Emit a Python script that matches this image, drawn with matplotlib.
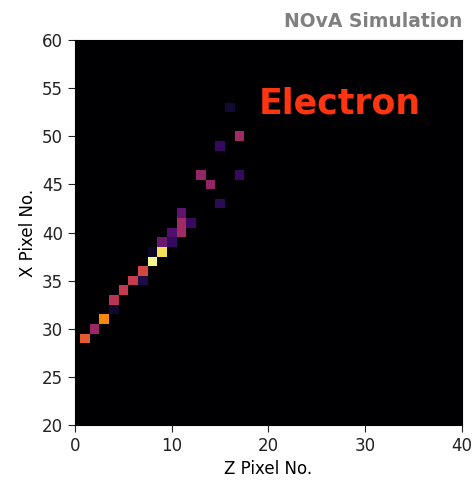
import numpy as np
import matplotlib
matplotlib.use("Agg")
import matplotlib.pyplot as plt

# hit cells: z pixel, x pixel, relative charge
hit_z = [1, 2, 3, 4, 4, 5, 6, 7, 7, 8, 8, 9, 9, 10, 10, 11, 11, 11, 12, 13, 14, 15, 15, 17, 17, 16]
hit_x = [29, 30, 31, 32, 33, 34, 35, 35, 36, 37, 38, 38, 39, 39, 40, 40, 41, 42, 41, 46, 45, 43, 49, 46, 50, 53]
hit_q = [0.63, 0.42, 0.74, 0.08, 0.49, 0.52, 0.53, 0.12, 0.57, 0.98, 0.07, 0.92, 0.30,
         0.17, 0.24, 0.43, 0.43, 0.27, 0.18, 0.40, 0.40, 0.15, 0.17, 0.17, 0.43, 0.09]

z_range = (0, 40)
x_range = (20, 60)

img = np.zeros((x_range[1] - x_range[0] + 1, z_range[1] - z_range[0] + 1))
for z, x, q in zip(hit_z, hit_x, hit_q):
    img[x - x_range[0], z - z_range[0]] = q

fig = plt.figure(figsize=(4.73, 4.80), dpi=100)
ax = fig.add_axes([0.1586, 0.1146, 0.818, 0.802])
ax.imshow(img, cmap="inferno", vmin=0, vmax=1, origin="lower", aspect="auto",
          interpolation="nearest",
          extent=(z_range[0] - 0.5, z_range[1] + 0.5, x_range[0] - 0.5, x_range[1] + 0.5))
ax.set_xlim(*z_range)
ax.set_ylim(*x_range)
ax.set_xticks([0, 10, 20, 30, 40])
ax.set_yticks(range(20, 61, 5))
ax.tick_params(labelsize=12, colors="#222222", length=5)
ax.set_xlabel("Z Pixel No.", fontsize=12)
ax.set_ylabel("X Pixel No.", fontsize=12)

ax.text(19, 53.4, "Electron", color="#ff3410", fontsize=25, fontweight="bold",
        ha="left", va="center")
fig.text(0.977, 0.975, "NOvA Simulation", color="#808080", fontsize=13.5,
         fontweight="bold", ha="right", va="top")

fig.savefig("out.png", dpi=100)
